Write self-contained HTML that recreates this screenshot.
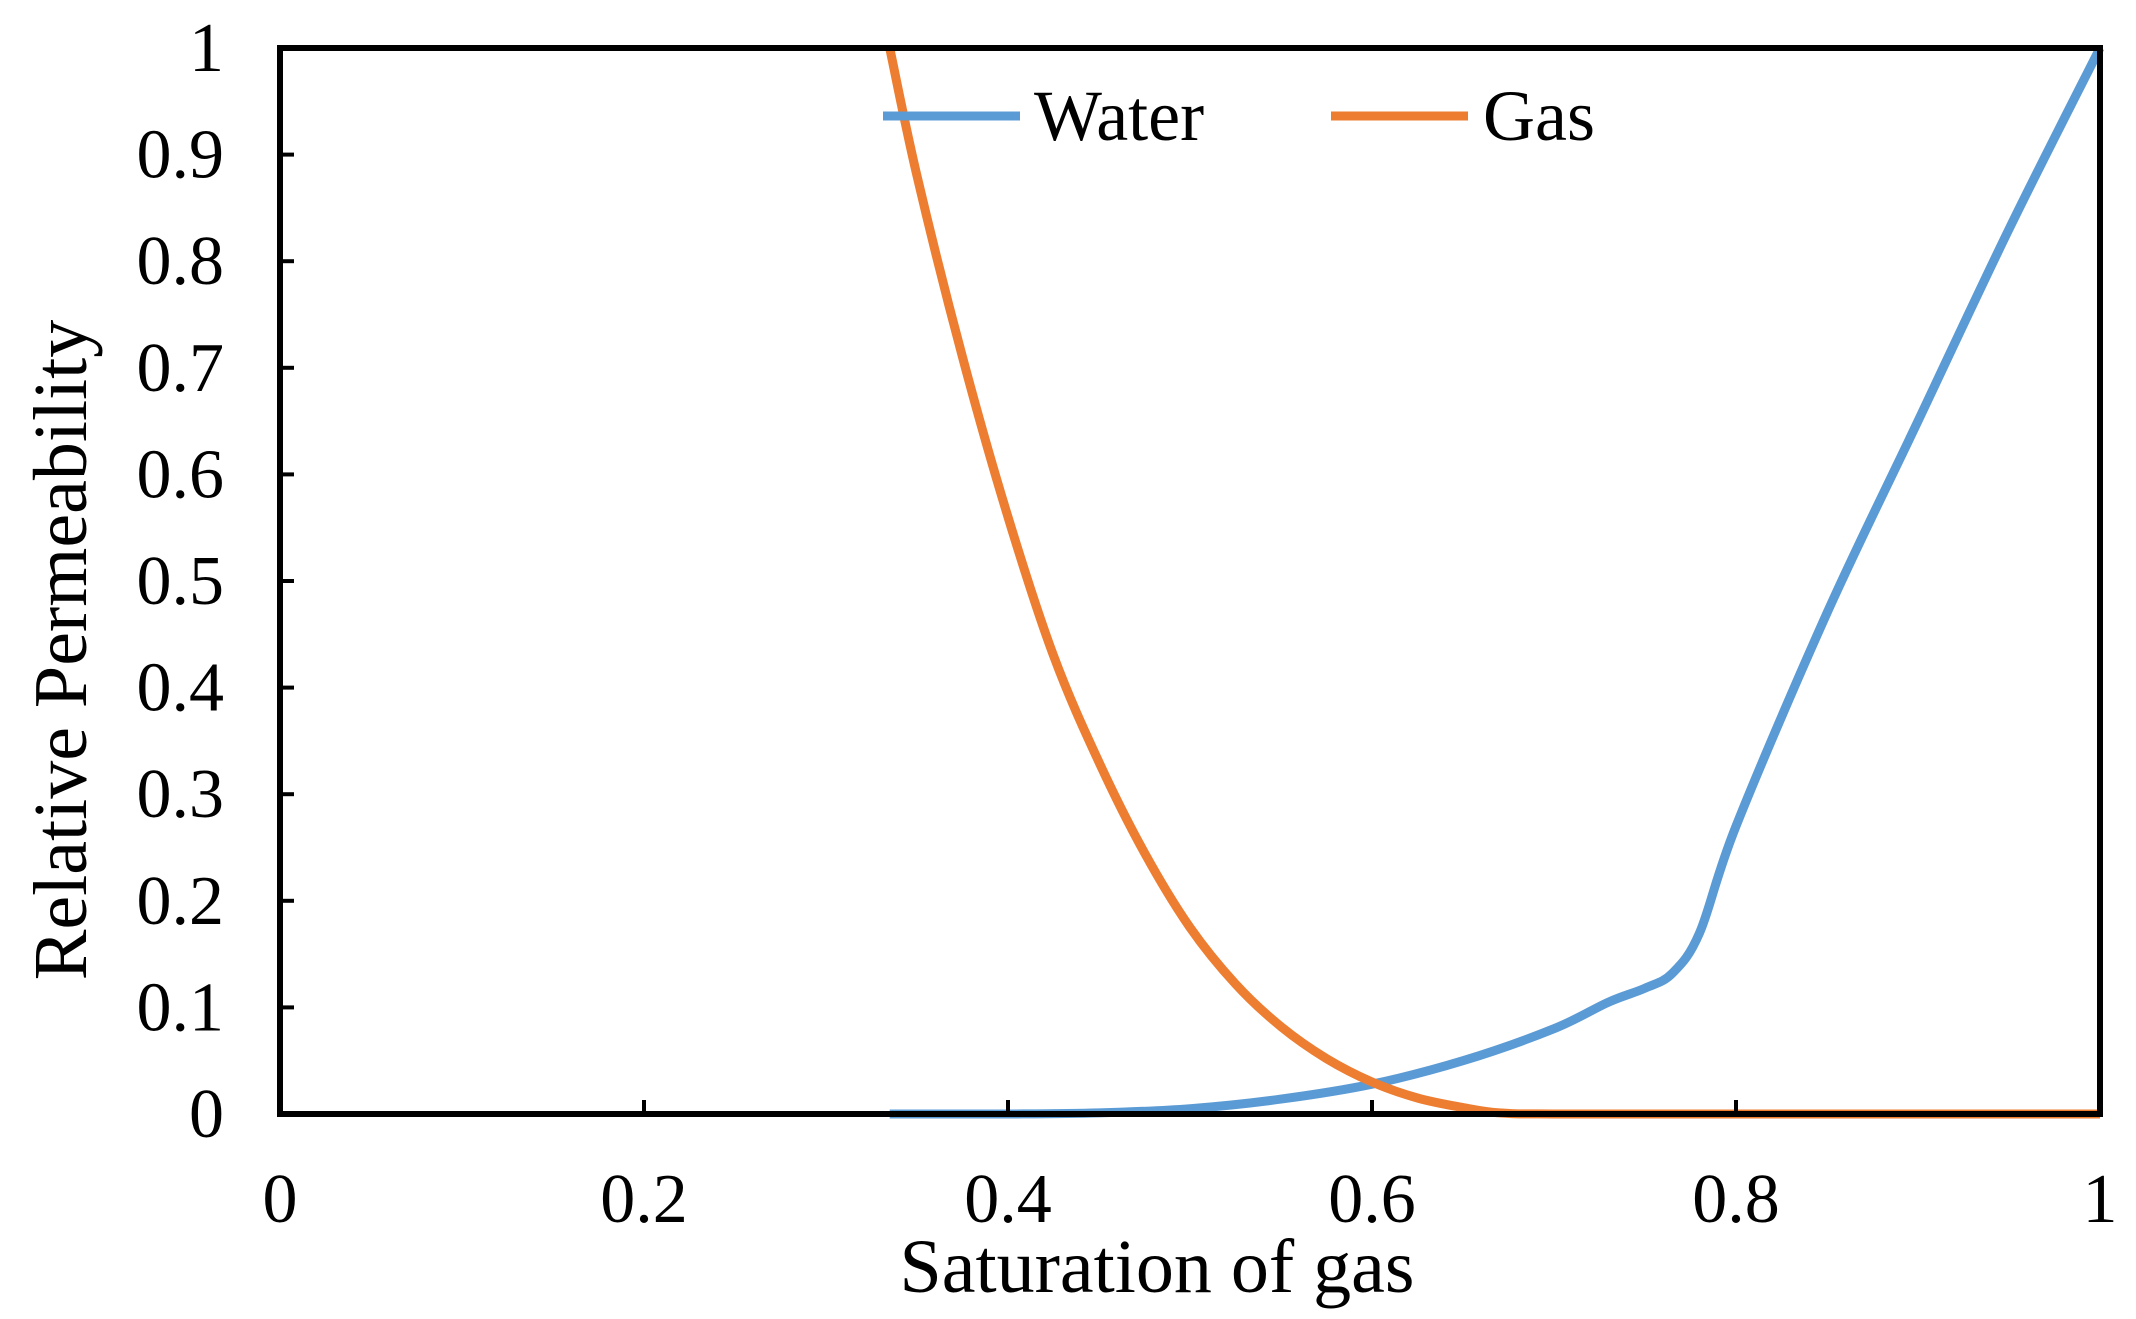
<!DOCTYPE html>
<html><head><meta charset="utf-8"><style>
html,body{margin:0;padding:0;background:#fff;width:2136px;height:1319px;overflow:hidden}
text{font-family:"Liberation Serif",serif;fill:#000}
</style></head><body>
<svg id="chart" width="2136" height="1319" xmlns="http://www.w3.org/2000/svg"></svg>
<script>
const xTicks=[0,0.2,0.4,0.6,0.8,1];
const xTickLabels=["0","0.2","0.4","0.6","0.8","1"];
const yTicks=[0,0.1,0.2,0.3,0.4,0.5,0.6,0.7,0.8,0.9,1];
const yTickLabels=["0","0.1","0.2","0.3","0.4","0.5","0.6","0.7","0.8","0.9","1"];
const waterX=[0.335,0.4,0.45,0.5,0.55,0.6,0.65,0.7,0.73,0.75,0.765,0.78,0.8,0.85,0.9,0.95,1];
const waterY=[0,0,0.001,0.005,0.014,0.028,0.05,0.08,0.105,0.118,0.132,0.17,0.27,0.47,0.65,0.83,1];
const gasX=[0.335,0.35,0.375,0.4,0.425,0.45,0.475,0.5,0.525,0.55,0.575,0.6,0.625,0.65,0.67,0.7,0.8,0.9,1];
const gasY=[1,0.88,0.71,0.56,0.43,0.33,0.245,0.175,0.122,0.082,0.052,0.03,0.015,0.006,0.001,0,0,0,0];
const L=280,R=2100,T=48,B=1114;
const sx=v=>L+v*(R-L), sy=v=>B-v*(B-T);
const svg=document.getElementById('chart');
const NS='http://www.w3.org/2000/svg';
function mk(tag,attrs,parent){const e=document.createElementNS(NS,tag);for(const k in attrs)e.setAttribute(k,attrs[k]);(parent||svg).appendChild(e);return e;}
function path(xs,ys){
  const p=xs.map((x,i)=>[sx(x),sy(ys[i])]);
  let d='M'+p[0][0].toFixed(1)+','+p[0][1].toFixed(1);
  for(let i=0;i<p.length-1;i++){
    const p0=p[Math.max(i-1,0)],p1=p[i],p2=p[i+1],p3=p[Math.min(i+2,p.length-1)];
    const c1=[p1[0]+(p2[0]-p0[0])/6,p1[1]+(p2[1]-p0[1])/6];
    const c2=[p2[0]-(p3[0]-p1[0])/6,p2[1]-(p3[1]-p1[1])/6];
    c1[1]=Math.min(c1[1],B);c2[1]=Math.min(c2[1],B);
    d+=' C'+c1.map(n=>n.toFixed(1)).join(',')+' '+c2.map(n=>n.toFixed(1)).join(',')+' '+p2[0].toFixed(1)+','+p2[1].toFixed(1);
  }
  return d;
}
let w=mk('path',{d:path(waterX,waterY),fill:'none',stroke:'#5B9BD5','stroke-width':9,'stroke-linejoin':'round'});


let g=mk('path',{d:path(gasX,gasY),fill:'none',stroke:'#ED7D31','stroke-width':9,'stroke-linejoin':'round'});


let f=mk('rect',{x:L,y:T,width:R-L,height:B-T,fill:'none',stroke:'#000','stroke-width':6});


xTicks.forEach((v,i)=>{
  let t=mk('line',{x1:sx(v),x2:sx(v),y1:B,y2:B-14,stroke:'#000','stroke-width':4});
  
  
  let l=mk('text',{x:sx(v),y:1222,'text-anchor':'middle','font-size':70});
  l.textContent=xTickLabels[i];
  
  
});
yTicks.forEach((v,i)=>{
  let t=mk('line',{x1:L,x2:L+14,y1:sy(v),y2:sy(v),stroke:'#000','stroke-width':4});
  
  
  let l=mk('text',{x:224,y:sy(v)+23,'text-anchor':'end','font-size':70});
  l.textContent=yTickLabels[i];
  
  
});
let xt=mk('text',{x:1157,y:1292,'text-anchor':'middle','font-size':76});
xt.textContent='Saturation of gas';


let yt=mk('text',{x:0,y:0,'text-anchor':'middle','font-size':76,transform:'translate(86,650) rotate(-90)'});
yt.textContent='Relative Permeability';


let lw=mk('line',{x1:883,x2:1020,y1:116,y2:116,stroke:'#5B9BD5','stroke-width':9});


let lwt=mk('text',{x:1034,y:140,'font-size':72});
lwt.textContent='Water';


let lg=mk('line',{x1:1331,x2:1468,y1:116,y2:116,stroke:'#ED7D31','stroke-width':9});


let lgt=mk('text',{x:1483,y:140,'font-size':72});
lgt.textContent='Gas';


</script>
</body></html>
